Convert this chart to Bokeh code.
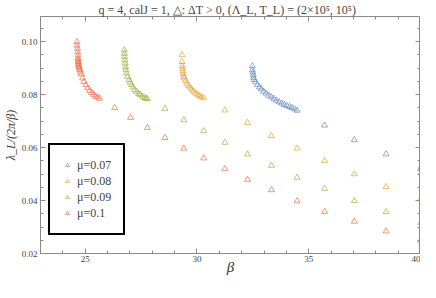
from bokeh.plotting import figure
from bokeh.models import Range1d, FixedTicker, PrintfTickFormatter, LinearAxis, Legend, LegendItem
from bokeh.embed import file_html
from bokeh.resources import INLINE

# ---- data ----
mu_labels = ["\u03bc=0.07", "\u03bc=0.08", "\u03bc=0.09", "\u03bc=0.1"]
colors = ["#5E81B5", "#E19C24", "#8FB032", "#EB6235"]

beta_07 = [32.48, 32.48, 32.50, 32.52, 32.53, 32.56, 32.62, 32.71, 32.80, 32.88, 32.98, 33.09,
           33.20, 33.32, 33.44, 33.55, 33.67, 33.79, 33.90, 34.02, 34.14, 34.25, 34.37, 34.48,
           35.71, 37.04, 38.46, 40.0]
lam_07 = [0.0908, 0.0893, 0.0884, 0.0874, 0.0864, 0.0856, 0.0847, 0.0837, 0.0828, 0.0821, 0.0812, 0.0805,
          0.0797, 0.0791, 0.0785, 0.0778, 0.0772, 0.0767, 0.0762, 0.0758, 0.0754, 0.0750, 0.0745, 0.0740,
          0.0684, 0.0629, 0.0575, 0.0521]

beta_08 = [29.33, 29.33, 29.34, 29.36, 29.37, 29.39, 29.40, 29.44, 29.50, 29.56, 29.62, 29.69,
           29.77, 29.85, 29.94, 30.03, 30.12, 30.20, 30.30,
           31.25, 32.26, 33.33, 34.48, 35.71, 37.04, 38.46, 40.0]
lam_08 = [0.0950, 0.0924, 0.0909, 0.0899, 0.0889, 0.0879, 0.0869, 0.0862, 0.0852, 0.0842, 0.0834, 0.0827,
          0.0819, 0.0812, 0.0805, 0.0800, 0.0795, 0.0791, 0.0787,
          0.0741, 0.0694, 0.0644, 0.0597, 0.0550, 0.0500, 0.0452, 0.0405]

beta_09 = [26.75, 26.75, 26.76, 26.78, 26.79, 26.81, 26.82, 26.85, 26.89, 26.97, 27.01, 27.07,
           27.14, 27.21, 27.30, 27.39, 27.47, 27.56, 27.65, 27.72, 27.78,
           28.57, 29.41, 30.30, 31.25, 32.26, 33.33, 34.48, 35.71, 37.04, 38.46, 40.0]
lam_09 = [0.0968, 0.0955, 0.0943, 0.0930, 0.0918, 0.0905, 0.0893, 0.0881, 0.0868, 0.0856, 0.0846, 0.0837,
          0.0828, 0.0818, 0.0811, 0.0803, 0.0799, 0.0793, 0.0788, 0.0785, 0.0784,
          0.0747, 0.0704, 0.0663, 0.0619, 0.0575, 0.0532, 0.0487, 0.0445, 0.0399, 0.0357, 0.0315]

beta_10 = [24.63, 24.63, 24.66, 24.66, 24.68, 24.68, 24.69, 24.69, 24.70, 24.71, 24.72, 24.74, 24.76,
           24.79, 24.83, 24.88, 24.94, 25.03, 25.11, 25.20, 25.29, 25.38, 25.46, 25.55, 25.64,
           26.32, 27.03, 27.78, 28.57, 29.41, 30.30, 31.25, 32.26, 33.33, 34.48, 35.71, 37.04, 38.46, 40.0]
lam_10 = [0.0999, 0.0986, 0.0974, 0.0961, 0.0949, 0.0937, 0.0930, 0.0924, 0.0918, 0.0912, 0.0905, 0.0899,
          0.0893, 0.0885, 0.0877, 0.0862, 0.0849, 0.0837, 0.0825, 0.0815, 0.0807, 0.0800, 0.0793, 0.0790,
          0.0785,
          0.0750, 0.0713, 0.0675, 0.0637, 0.0597, 0.0560, 0.0519, 0.0479, 0.0440, 0.0398, 0.0358, 0.0321,
          0.0284, 0.0249]

x_major = [25, 30, 35, 40]
x_minor = [23, 24, 26, 27, 28, 29, 31, 32, 33, 34, 36, 37, 38, 39]
y_major = [0.02, 0.04, 0.06, 0.08, 0.10]
y_minor = [0.025, 0.03, 0.035, 0.045, 0.05, 0.055, 0.065, 0.07, 0.075, 0.085, 0.09, 0.095, 0.105]

x_min, x_max = 23, 40
y_min, y_max = 0.02, 0.1095

title_text = "q = 4,  calJ = 1,  \u25b3: \u0394T > 0, (\u039b_L, T_L) = (2\u00d710\u2075, 10\u2075)"
x_label = "\u03b2"
y_label = "\u03bb_L/(2\u03c0/\u03b2)"

SERIF = "serif"

# ---- figure ----
p = figure(width=420, height=282, output_backend="svg", toolbar_location=None,
           x_range=Range1d(x_min, x_max), y_range=Range1d(y_min, y_max),
           min_border_left=33, min_border_right=0, min_border_top=16, min_border_bottom=29,
           x_axis_label=x_label, y_axis_label=y_label)
p.title.text = title_text
p.title.text_font = SERIF
p.title.text_font_size = "12px"
p.title.text_font_style = "normal"
p.title.align = "center"
p.title.standoff = 0
p.xgrid.visible = False
p.ygrid.visible = False
p.outline_line_color = "#8a8a8a"
p.background_fill_color = "white"

axcol = "#8a8a8a"

def style_axis(ax, major, minor, labels=True):
    ax.ticker = FixedTicker(ticks=major, minor_ticks=minor)
    ax.axis_line_color = axcol
    ax.major_tick_line_color = axcol
    ax.minor_tick_line_color = axcol
    ax.major_tick_in = 5
    ax.major_tick_out = 0
    ax.minor_tick_in = 3
    ax.minor_tick_out = 0
    ax.major_label_text_font = SERIF
    ax.major_label_text_font_size = "9px"
    ax.major_label_text_color = "#444444"
    ax.major_label_standoff = 3
    if not labels:
        ax.major_label_overrides = {t: "" for t in major}
        ax.major_label_standoff = 0

style_axis(p.xaxis[0], x_major, x_minor)
style_axis(p.yaxis[0], y_major, y_minor)
p.xaxis[0].major_label_standoff = 2
p.yaxis[0].formatter = PrintfTickFormatter(format="%.2f")
p.xaxis[0].axis_label_text_font = SERIF
p.xaxis[0].axis_label_text_font_style = "italic"
p.xaxis[0].axis_label_text_font_size = "15px"
p.xaxis[0].axis_label_text_color = "#333333"
p.xaxis[0].axis_label_standoff = -6
p.yaxis[0].axis_label_text_font = SERIF
p.yaxis[0].axis_label_text_font_style = "italic"
p.yaxis[0].axis_label_text_font_size = "12px"
p.yaxis[0].axis_label_text_color = "#333333"
p.yaxis[0].axis_label_standoff = 1

top_ax = LinearAxis(fixed_location=y_max)
style_axis(top_ax, x_major, x_minor, labels=False)
p.add_layout(top_ax, "above")
right_ax = LinearAxis(fixed_location=x_max)
style_axis(right_ax, y_major, y_minor, labels=False)
p.add_layout(right_ax, "right")

renderers = []
for bx, ly, c in [(beta_07, lam_07, colors[0]), (beta_08, lam_08, colors[1]),
                  (beta_09, lam_09, colors[2]), (beta_10, lam_10, colors[3])]:
    r = p.scatter(bx, ly, marker="triangle", size=6, fill_color=None,
                  line_color=c, line_alpha=0.65, line_width=1)
    renderers.append(r)

legend = Legend(items=[LegendItem(label=lab, renderers=[r]) for lab, r in zip(mu_labels, renderers)],
                location=(8, 18))
legend.border_line_color = "black"
legend.border_line_width = 2
legend.border_line_alpha = 1
legend.background_fill_color = "white"
legend.background_fill_alpha = 1
legend.label_text_font = SERIF
legend.label_text_font_size = "12px"
legend.label_height = 16
legend.glyph_height = 16
legend.glyph_width = 10
legend.spacing = 0
legend.padding = 12
legend.margin = 0
legend.label_standoff = 5
p.add_layout(legend, "center")

open("out.html", "w").write(file_html(p, INLINE))
